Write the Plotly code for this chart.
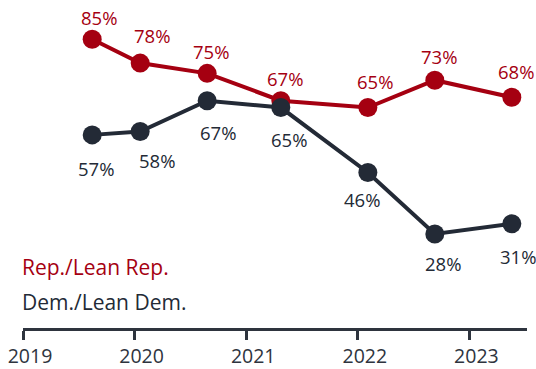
import plotly.graph_objects as go

# Survey waves (fractional year) and shares (%)
rep_x = [2019.62, 2020.05, 2020.65, 2021.31, 2022.09, 2022.69, 2023.38]
rep_y = [85, 78, 75, 67, 65, 73, 68]
dem_x = [2019.62, 2020.05, 2020.65, 2021.31, 2022.09, 2022.69, 2023.38]
dem_y = [57, 58, 67, 65, 46, 28, 31]
tick_years = [2019, 2020, 2021, 2022, 2023]
series_names = ["Rep./Lean Rep.", "Dem./Lean Dem."]

RED = "#A50011"
DARK = "#232A36"
AXIS = "#2E343E"
FONT = "Open Sans"

fig = go.Figure()
for xs, ys, col, name in [(rep_x, rep_y, RED, series_names[0]),
                          (dem_x, dem_y, DARK, series_names[1])]:
    fig.add_trace(go.Scatter(
        x=xs, y=ys, mode="lines+markers", name=name,
        line=dict(color=col, width=4),
        marker=dict(color=col, size=19),
        showlegend=False, hoverinfo="skip"))

annotations = []
# value labels: Rep above each point, Dem below
rep_dx = [7, 12, 4, 4, 7, 4, 4]
rep_dy = [22, 28, 22, 22, 26, 24, 26]
dem_dx = [4, 17, 11, 8, -6, 8, 6]
dem_dy = [-34, -29, -32, -32, -27, -29, -33]
for x, y, dx, dy in zip(rep_x, rep_y, rep_dx, rep_dy):
    annotations.append(dict(x=x, y=y, text=f"{y}%", showarrow=False,
                            xshift=dx, yshift=dy,
                            font=dict(family=FONT, size=18.5, color=RED)))
for x, y, dx, dy in zip(dem_x, dem_y, dem_dx, dem_dy):
    annotations.append(dict(x=x, y=y, text=f"{y}%", showarrow=False,
                            xshift=dx, yshift=dy,
                            font=dict(family=FONT, size=18.5, color=DARK)))

# series labels in the lower-left corner
for name, col, ypx in [(series_names[0], RED, 273), (series_names[1], DARK, 308)]:
    annotations.append(dict(xref="paper", yref="paper", x=-0.0065, y=(335 - ypx) / 335,
                            xanchor="left", yanchor="middle", text=name,
                            showarrow=False, font=dict(family=FONT, size=21, color=col)))

fig.update_layout(
    width=536, height=369,
    margin=dict(l=23, r=9, t=0, b=34),
    paper_bgcolor="white", plot_bgcolor="white",
    annotations=annotations,
    xaxis=dict(range=[2019, 2023.516], tickvals=tick_years,
               ticktext=[str(t) for t in tick_years],
               showgrid=False, zeroline=False,
               showline=True, linecolor=AXIS, linewidth=2.7,
               ticks="outside", ticklen=9, tickwidth=2.7, tickcolor=AXIS,
               ticklabelshift=7,
               tickfont=dict(family=FONT, size=19.5, color=AXIS)),
    yaxis=dict(range=[0.5, 96.46], visible=False, showgrid=False, zeroline=False),
)

fig.write_html("out.html")
